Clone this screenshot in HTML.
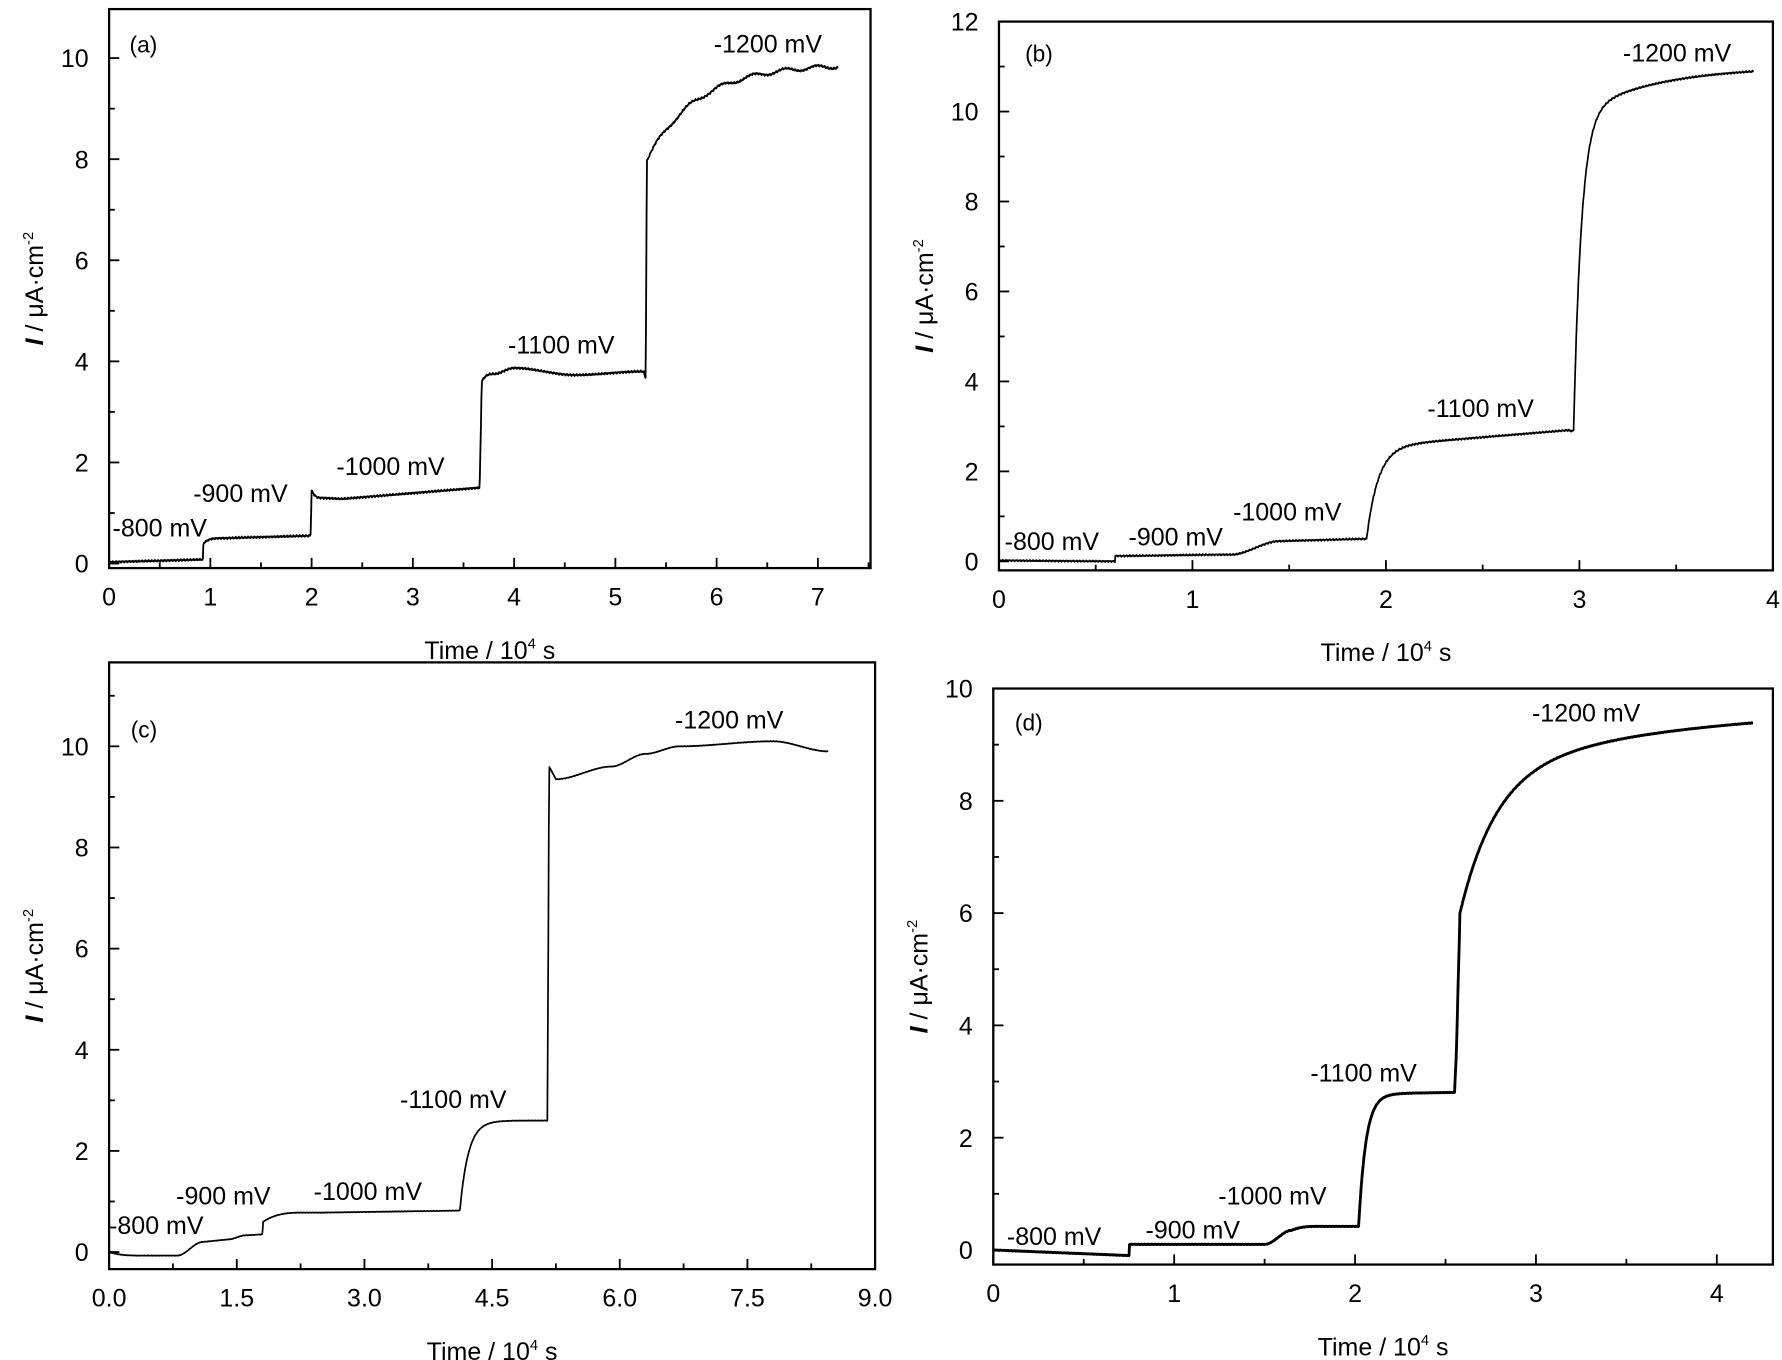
<!DOCTYPE html>
<html><head><meta charset="utf-8"><style>html,body{margin:0;padding:0;background:#fff}svg{display:block}text{font-family:"Liberation Sans",sans-serif;fill:#000}</style></head>
<body>
<svg id="s" width="1782" height="1360" viewBox="0 0 1568 1197" preserveAspectRatio="none" xmlns="http://www.w3.org/2000/svg"></svg>
<script>
const S=document.getElementById('s');let out='';
function interp(pts,x){for(let i=0;i<pts.length-1;i++){if(x>=pts[i][0]&&x<=pts[i+1][0]){const a=pts[i],b=pts[i+1];if(b[0]==a[0])return b[1];const t=(x-a[0])/(b[0]-a[0]);let s=t;if(b[2]==1)s=t*t*(3-2*t);else if(b[2]==2)s=1-Math.pow(1-t,3);return a[1]+(b[1]-a[1])*s;}}return pts[pts.length-1][1];}
function panel(p){
 const X=v=>p.x0+(v-p.xmin)/(p.xmax-p.xmin)*(p.x1-p.x0);
 const Y=v=>p.y0-(v-p.ymin)/(p.ymax-p.ymin)*(p.y0-p.y1);
 out+=`<rect x="${p.x0}" y="${p.y1}" width="${p.x1-p.x0}" height="${p.y0-p.y1}" fill="none" stroke="#000" stroke-width="2"/>`;
 for(let i=0;i<=p.nx*2;i++){const v=p.xmin+i*p.dx/2;const x=X(v);if(x>p.x1+1)break;const L=i%2?5:9;
  out+=`<line x1="${x}" y1="${p.y0}" x2="${x}" y2="${p.y0-L}" stroke="#000" stroke-width="1.6"/>`;
  if(!(i%2))out+=`<text x="${x}" y="${p.y0+33}" font-size="22" text-anchor="middle">${v.toFixed(p.xd)}</text>`;}
 for(let i=0;i<=p.ny*2;i++){const v=i*p.dy/2;const y=Y(v);if(y<p.y1-1)break;const L=i%2?5:9;
  out+=`<line x1="${p.x0}" y1="${y}" x2="${p.x0+L}" y2="${y}" stroke="#000" stroke-width="1.6"/>`;
  if(!(i%2))out+=`<text x="${p.x0-18}" y="${y+8}" font-size="22" text-anchor="end">${v}</text>`;}
 const cx=(p.x0+p.x1)/2;
 out+=`<text x="${cx}" y="${p.y0+80}" font-size="22" text-anchor="middle">Time / 10<tspan dy="-9" font-size="13">4</tspan><tspan dy="9"> s</tspan></text>`;
 const cy=(p.y0+p.y1)/2;
 out+=`<text transform="translate(${p.x0-58},${cy}) rotate(-90)" font-size="22" text-anchor="middle"><tspan font-style="italic" font-weight="bold">I</tspan> / μA·cm<tspan dy="-9" font-size="13">-2</tspan></text>`;
 out+=`<text x="${p.lab[0]}" y="${p.lab[1]}" font-size="20">${p.name}</text>`;
 let d='';let n=1400;
 for(let i=0;i<=n;i++){const x=p.pts[0][0]+(p.pts[p.pts.length-1][0]-p.pts[0][0])*i/n;let f=p.f?p.f(x):null;let y=(f==null?interp(p.pts,x):f)+(Math.sin(i*7.3)*0.5+Math.sin(i*2.1)*0.5)*p.noise;d+=(i?'L':'M')+X(x).toFixed(1)+','+Y(y).toFixed(1);}
 out+=`<path d="${d}" fill="none" stroke="#000" stroke-width="${p.lw}" stroke-linejoin="round"/>`;
 for(const t of p.texts)out+=`<text x="${t[0]}" y="${t[1]}" font-size="22">${t[2]}</text>`;
}
const E=Math.exp;
panel({x0:96,x1:766,y0:500,y1:8,xmin:0,xmax:7.52,ymin:-0.09,ymax:10.97,nx:8,dx:1,xd:0,ny:6,dy:2,name:'(a)',lab:[114,46],lw:1.6,noise:0.02,
 f:x=>x>5.31?9.88-1.9*E(-(x-5.31)/0.5)+0.04*Math.sin(x*20):null,
 pts:[[0,0.03],[0.93,0.08],[0.931,0.4],[1.1,0.5,2],[1.99,0.55],[2.0,1.45],[2.1,1.3,2],[2.3,1.28],[3.66,1.5],[3.68,3.6],[3.8,3.75,2],[4.0,3.87,1],[4.6,3.73,1],[5.28,3.8,1],[5.3,3.65],[5.31,7.95],[7.2,9.85]],
 texts:[[99,472,'-800 mV'],[170,442,'-900 mV'],[296,418,'-1000 mV'],[447,311,'-1100 mV'],[628,46,'-1200 mV']]});
panel({x0:879,x1:1560,y0:502,y1:19,xmin:0,xmax:4.0,ymin:-0.2,ymax:12,nx:4,dx:1,xd:0,ny:6,dy:2,name:'(b)',lab:[902,54],lw:1.5,noise:0.02,
 f:x=>x>2.97?11.0-7.0*E(-(x-2.97)/0.04)-1.1*E(-(x-2.97)/0.4):(x>1.9&&x<=2.95?2.55-2.05*E(-(x-1.9)/0.06)+0.35*(x-1.9):null),
 pts:[[0,0.02],[0.6,0],[0.601,0.12],[1.2,0.15,1],[1.45,0.45,1],[1.88,0.5],[1.9,0.5],[2.95,2.9],[2.97,2.9],[3.9,10.9]],
 texts:[[884,484,'-800 mV'],[993,480,'-900 mV'],[1085,458,'-1000 mV'],[1256,367,'-1100 mV'],[1428,54,'-1200 mV']]});
panel({x0:96,x1:770,y0:1117,y1:583,xmin:0,xmax:9,ymin:-0.337,ymax:11.66,nx:6,dx:1.5,xd:1,ny:6,dy:2,name:'(c)',lab:[115,649],lw:1.5,noise:0.005,
 f:x=>(x>4.12&&x<5.15)?2.6-1.8*E(-(x-4.12)/0.1):null,
 pts:[[0,0],[0.4,-0.07,2],[0.8,-0.07],[1.1,0.2,1],[1.4,0.25],[1.6,0.33,1],[1.8,0.35],[1.81,0.6],[2.3,0.78,2],[2.5,0.78],[4.1,0.82],[4.12,0.82],[5.15,2.6],[5.17,9.6],[5.25,9.35],[5.9,9.6,1],[6.3,9.85,1],[6.7,10,1],[7.8,10.1,1],[8.45,9.9,1]],
 texts:[[96,1086,'-800 mV'],[155,1060,'-900 mV'],[276,1056,'-1000 mV'],[352,975,'-1100 mV'],[594,641,'-1200 mV']]});
panel({x0:874,x1:1560,y0:1113,y1:606,xmin:0,xmax:4.31,ymin:-0.26,ymax:10,nx:4,dx:1,xd:0,ny:5,dy:2,name:'(d)',lab:[893,643],lw:2.5,noise:0.005,
 f:x=>x>2.58?9.7-2.5*E(-(x-2.58)/0.2)-1.2*E(-(x-2.58)/1.2):(x>2.02&&x<=2.55?2.78-2.35*E(-(x-2.02)/0.04)+0.05*(x-2.02):null),
 pts:[[0,0],[0.75,-0.1],[0.751,0.1],[1.5,0.1],[1.65,0.35,1],[1.8,0.42,2],[2.0,0.42],[2.02,0.42],[2.55,2.8],[2.56,3.5],[2.58,6.0],[4.2,9.5]],
 texts:[[886,1096,'-800 mV'],[1008,1090,'-900 mV'],[1072,1060,'-1000 mV'],[1153,952,'-1100 mV'],[1348,635,'-1200 mV']]});
S.innerHTML=out;
</script>
</body></html>
